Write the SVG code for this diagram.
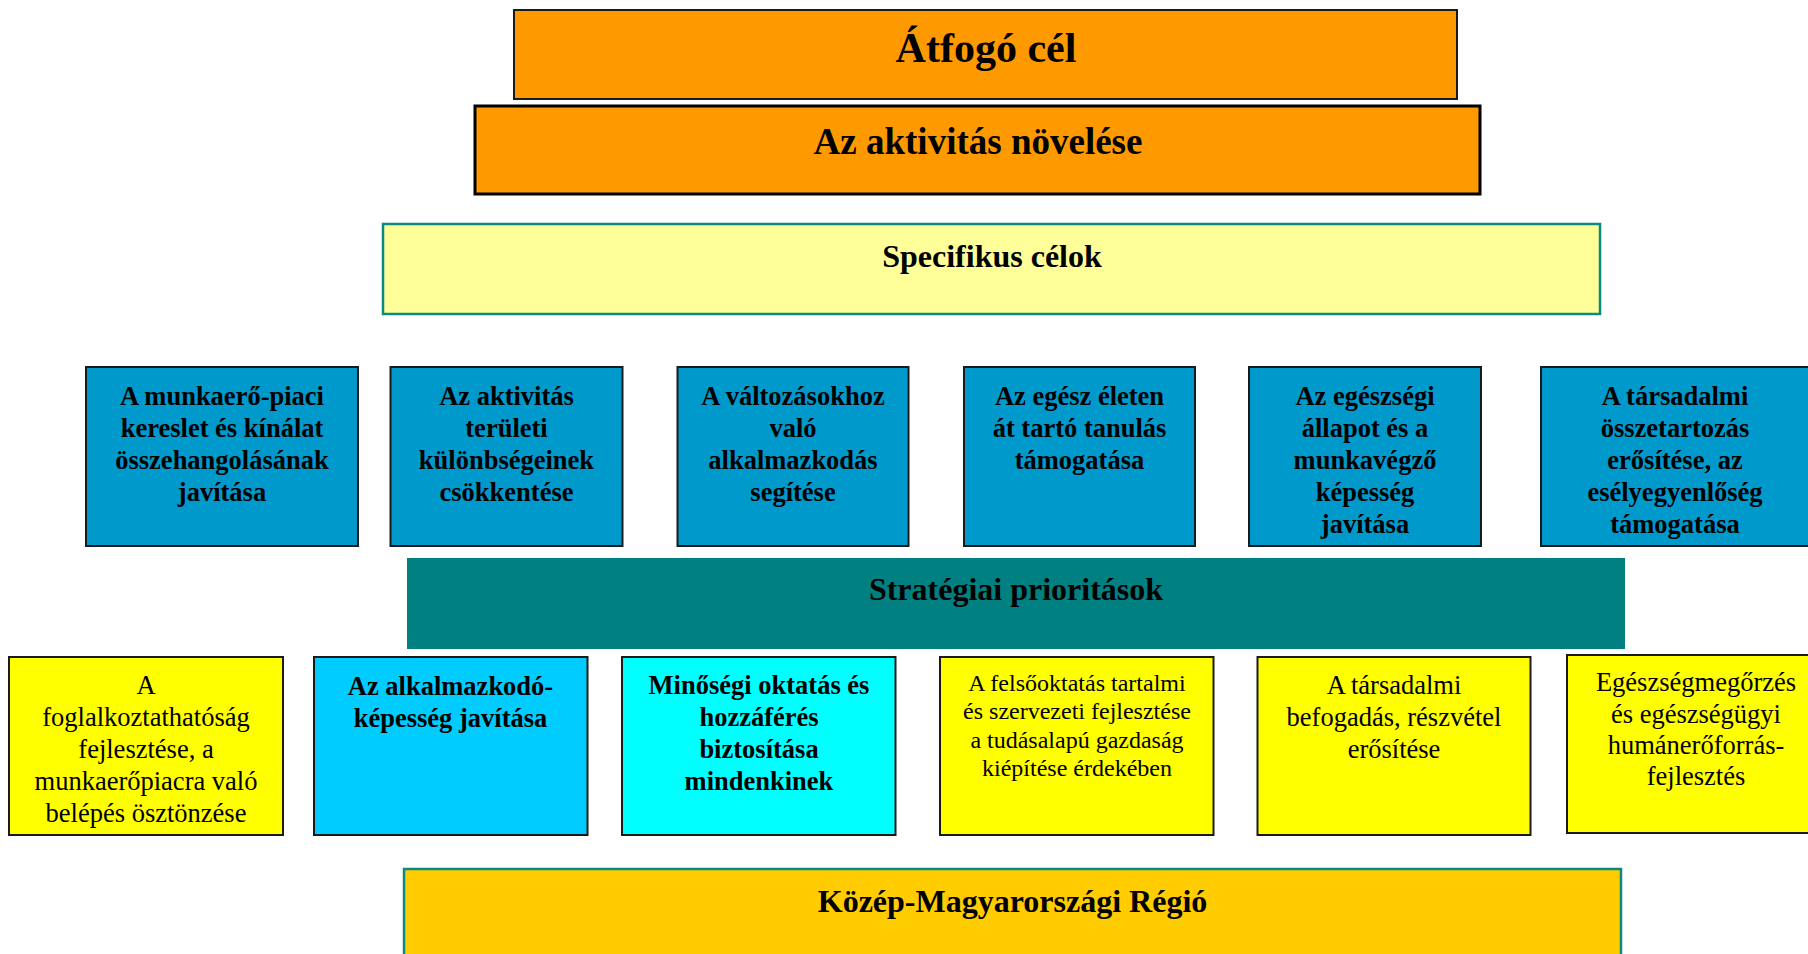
<svg xmlns="http://www.w3.org/2000/svg" width="1808" height="954" viewBox="0 0 1808 954">
<style>
text{font-family:"Liberation Serif","Times New Roman",serif;text-anchor:middle;fill:#000}
.b{font-weight:bold}
.box{stroke:#1a1a1a;stroke-width:2}
.tealb{stroke:#0a8a80;stroke-width:2.5}
.blue{fill:#0099CC}
.yel{fill:#FFFF00}
.t26{font-size:26.5px}
.t24{font-size:24px}
.t32{font-size:32px}
</style>
<rect width="1808" height="954" fill="#fff"/>
<g id="connectors"></g>
<g id="atfogo">
<rect class="box" x="514" y="10" width="943" height="89" fill="#FF9900"/>
<text class="b" x="986" y="62" font-size="42">Átfogó cél</text>
</g>
<g id="aktivitas">
<rect x="475" y="106" width="1005" height="88" fill="#FF9900" stroke="#000" stroke-width="3"/>
<text class="b" x="978" y="154" font-size="37">Az aktivitás növelése</text>
</g>
<g id="specifikus">
<rect class="tealb" x="383" y="224" width="1217" height="90" fill="#FFFF99"/>
<text class="b t32" x="992" y="267">Specifikus célok</text>
</g>
<g id="spec1">
<rect class="box blue" x="86" y="367" width="272" height="179"/>
<text class="b t26" x="222" y="405">A munkaerő-piaci</text>
<text class="b t26" x="222" y="437">kereslet és kínálat</text>
<text class="b t26" x="222" y="469">összehangolásának</text>
<text class="b t26" x="222" y="501">javítása</text>
</g>
<g id="spec2">
<rect class="box blue" x="390.5" y="367" width="232" height="179"/>
<text class="b t26" x="506.5" y="405">Az aktivitás</text>
<text class="b t26" x="506.5" y="437">területi</text>
<text class="b t26" x="506.5" y="469">különbségeinek</text>
<text class="b t26" x="506.5" y="501">csökkentése</text>
</g>
<g id="spec3">
<rect class="box blue" x="677.5" y="367" width="231" height="179"/>
<text class="b t26" x="793" y="405">A változásokhoz</text>
<text class="b t26" x="793" y="437">való</text>
<text class="b t26" x="793" y="469">alkalmazkodás</text>
<text class="b t26" x="793" y="501">segítése</text>
</g>
<g id="spec4">
<rect class="box blue" x="964" y="367" width="231" height="179"/>
<text class="b t26" x="1079.5" y="405">Az egész életen</text>
<text class="b t26" x="1079.5" y="437">át tartó tanulás</text>
<text class="b t26" x="1079.5" y="469">támogatása</text>
</g>
<g id="spec5">
<rect class="box blue" x="1249" y="367" width="232" height="179"/>
<text class="b t26" x="1365" y="405">Az egészségi</text>
<text class="b t26" x="1365" y="437">állapot és a</text>
<text class="b t26" x="1365" y="469">munkavégző</text>
<text class="b t26" x="1365" y="501">képesség</text>
<text class="b t26" x="1365" y="533">javítása</text>
</g>
<g id="spec6">
<rect class="box blue" x="1541" y="367" width="272" height="179"/>
<text class="b t26" x="1675" y="405">A társadalmi</text>
<text class="b t26" x="1675" y="437">összetartozás</text>
<text class="b t26" x="1675" y="469">erősítése, az</text>
<text class="b t26" x="1675" y="501">esélyegyenlőség</text>
<text class="b t26" x="1675" y="533">támogatása</text>
</g>
<g id="strategiai">
<rect x="407" y="558" width="1218" height="91" fill="#008080"/>
<text class="b t32" x="1016" y="600">Stratégiai prioritások</text>
</g>
<g id="prio1">
<rect class="box yel" x="9" y="657" width="274" height="178"/>
<text class="t26" x="146" y="694">A</text>
<text class="t26" x="146" y="726">foglalkoztathatóság</text>
<text class="t26" x="146" y="758">fejlesztése, a</text>
<text class="t26" x="146" y="790">munkaerőpiacra való</text>
<text class="t26" x="146" y="822">belépés ösztönzése</text>
</g>
<g id="prio2">
<rect class="box" x="314" y="657" width="273.5" height="178" fill="#00CCFF"/>
<text class="b t26" x="450.5" y="695">Az alkalmazkodó-</text>
<text class="b t26" x="450.5" y="727">képesség javítása</text>
</g>
<g id="prio3">
<rect class="box" x="622" y="657" width="273.5" height="178" fill="#00FFFF"/>
<text class="b t26" x="759" y="694">Minőségi oktatás és</text>
<text class="b t26" x="759" y="726">hozzáférés</text>
<text class="b t26" x="759" y="758">biztosítása</text>
<text class="b t26" x="759" y="790">mindenkinek</text>
</g>
<g id="prio4">
<rect class="box yel" x="940" y="657" width="273.5" height="178"/>
<text class="t24" x="1077" y="691">A felsőoktatás tartalmi</text>
<text class="t24" x="1077" y="719">és szervezeti fejlesztése</text>
<text class="t24" x="1077" y="748">a tudásalapú gazdaság</text>
<text class="t24" x="1077" y="776">kiépítése érdekében</text>
</g>
<g id="prio5">
<rect class="box yel" x="1257.5" y="657" width="273" height="178"/>
<text class="t26" x="1394" y="694">A társadalmi</text>
<text class="t26" x="1394" y="726">befogadás, részvétel</text>
<text class="t26" x="1394" y="758">erősítése</text>
</g>
<g id="prio6">
<rect class="box yel" x="1567" y="655" width="273" height="178"/>
<text class="t26" x="1696" y="691">Egészségmegőrzés</text>
<text class="t26" x="1696" y="723">és egészségügyi</text>
<text class="t26" x="1696" y="754">humánerőforrás-</text>
<text class="t26" x="1696" y="785">fejlesztés</text>
</g>
<g id="regio">
<rect class="tealb" x="404" y="869" width="1217" height="100" fill="#FFCC00"/>
<text class="b t32" x="1012.5" y="912">Közép-Magyarországi Régió</text>
</g>
</svg>
